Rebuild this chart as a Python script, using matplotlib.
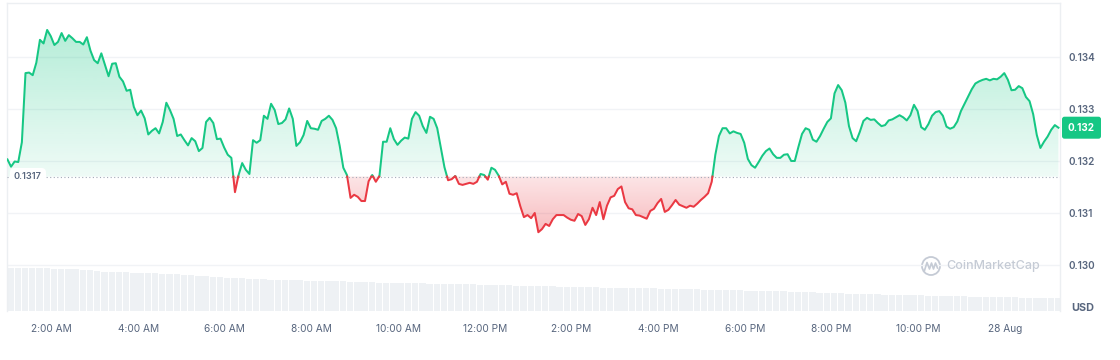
import numpy as np
import pandas as pd
import matplotlib
matplotlib.use("Agg")
import matplotlib.pyplot as plt
import matplotlib.transforms as mtransforms
from matplotlib.path import Path
from matplotlib.patches import Ellipse
from matplotlib.lines import Line2D
from matplotlib.colors import to_rgb

plt.rcParams['font.family'] = ['Inter', 'DejaVu Sans']

# ---------------- data ----------------
start_time = "2024-08-27 00:59"
step_minutes = 5
prices = [
    0.13203, 0.13189, 0.13199, 0.13198, 0.13236, 0.13369, 0.13370, 0.13365, 0.13389, 0.13433,
    0.13426, 0.13452, 0.13440, 0.13423, 0.13429, 0.13446, 0.13431, 0.13442, 0.13436, 0.13429,
    0.13429, 0.13424, 0.13438, 0.13412, 0.13394, 0.13388, 0.13407, 0.13385, 0.13363, 0.13387,
    0.13388, 0.13362, 0.13353, 0.13335, 0.13337, 0.13304, 0.13288, 0.13297, 0.13282, 0.13251,
    0.13258, 0.13263, 0.13253, 0.13275, 0.13312, 0.13298, 0.13281, 0.13248, 0.13251, 0.13240,
    0.13230, 0.13244, 0.13238, 0.13219, 0.13225, 0.13275, 0.13283, 0.13273, 0.13242, 0.13243,
    0.13226, 0.13212, 0.13206, 0.13140, 0.13173, 0.13196, 0.13183, 0.13175, 0.13240, 0.13235,
    0.13240, 0.13287, 0.13281, 0.13310, 0.13298, 0.13271, 0.13273, 0.13280, 0.13301, 0.13281,
    0.13229, 0.13236, 0.13250, 0.13277, 0.13263, 0.13262, 0.13260, 0.13277, 0.13281, 0.13287,
    0.13279, 0.13263, 0.13229, 0.13187, 0.13173, 0.13129, 0.13135, 0.13131, 0.13123, 0.13123,
    0.13161, 0.13173, 0.13160, 0.13171, 0.13237, 0.13237, 0.13263, 0.13242, 0.13231, 0.13239,
    0.13245, 0.13243, 0.13281, 0.13294, 0.13287, 0.13267, 0.13254, 0.13285, 0.13281, 0.13263,
    0.13225, 0.13188, 0.13163, 0.13165, 0.13171, 0.13156, 0.13154, 0.13156, 0.13158, 0.13156,
    0.13160, 0.13175, 0.13173, 0.13164, 0.13187, 0.13183, 0.13172, 0.13155, 0.13160, 0.13137,
    0.13135, 0.13138, 0.13113, 0.13092, 0.13096, 0.13090, 0.13100, 0.13063, 0.13069, 0.13079,
    0.13075, 0.13088, 0.13096, 0.13096, 0.13096, 0.13091, 0.13087, 0.13085, 0.13098, 0.13094,
    0.13077, 0.13088, 0.13110, 0.13096, 0.13121, 0.13088, 0.13114, 0.13130, 0.13133, 0.13146,
    0.13151, 0.13121, 0.13109, 0.13107, 0.13096, 0.13095, 0.13092, 0.13089, 0.13104, 0.13108,
    0.13119, 0.13127, 0.13102, 0.13106, 0.13115, 0.13125, 0.13116, 0.13113, 0.13110, 0.13114,
    0.13112, 0.13118, 0.13125, 0.13131, 0.13138, 0.13160, 0.13212, 0.13248, 0.13263, 0.13263,
    0.13253, 0.13257, 0.13254, 0.13252, 0.13235, 0.13204, 0.13192, 0.13187, 0.13198, 0.13210,
    0.13219, 0.13224, 0.13213, 0.13206, 0.13206, 0.13212, 0.13213, 0.13200, 0.13200, 0.13227,
    0.13252, 0.13263, 0.13260, 0.13241, 0.13237, 0.13248, 0.13262, 0.13275, 0.13282, 0.13330,
    0.13346, 0.13336, 0.13312, 0.13267, 0.13244, 0.13238, 0.13256, 0.13277, 0.13283, 0.13279,
    0.13280, 0.13273, 0.13267, 0.13269, 0.13278, 0.13280, 0.13284, 0.13288, 0.13284, 0.13278,
    0.13288, 0.13308, 0.13296, 0.13265, 0.13260, 0.13271, 0.13287, 0.13294, 0.13296, 0.13287,
    0.13266, 0.13262, 0.13265, 0.13276, 0.13296, 0.13310, 0.13324, 0.13338, 0.13349, 0.13353,
    0.13356, 0.13358, 0.13355, 0.13358, 0.13357, 0.13362, 0.13369, 0.13356, 0.13336, 0.13337,
    0.13344, 0.13340, 0.13323, 0.13315, 0.13290, 0.13250, 0.13225, 0.13237, 0.13247, 0.13260,
    0.13269, 0.13264,
]
ref_price = 0.1317
ref_label = "0.1317"
last_price_label = "0.132"

vol_start_time = "2024-08-27 00:59"
vol_step_minutes = 10
volumes = [
    128, 128, 128, 128, 128, 128, 127, 125, 125, 125, 123, 122, 120, 118, 118, 117, 116, 115, 114, 113,
    113, 112, 111, 110, 108, 107, 106, 105, 103, 101, 100, 99, 98, 97, 96, 95, 94, 93, 93, 93,
    92, 91, 91, 90, 89, 89, 89, 88, 88, 87, 86, 85, 85, 85, 84, 84, 83, 83, 82, 82,
    82, 81, 81, 80, 80, 79, 79, 78, 78, 77, 76, 76, 75, 75, 74, 74, 73, 73, 72, 72,
    71, 71, 70, 70, 70, 69, 69, 69, 68, 68, 67, 67, 66, 66, 65, 65, 64, 64, 63, 63,
    62, 62, 61, 61, 60, 60, 59, 59, 58, 57, 56, 56, 55, 54, 54, 53, 52, 52, 51, 51,
    50, 49, 49, 48, 48, 47, 47, 46, 46, 45, 45, 44, 44, 43, 43, 42, 42, 42, 41, 41,
    40, 40, 40, 39, 39, 39,
]

ytick_values = [0.130, 0.131, 0.132, 0.133, 0.134]
ytick_labels = ["0.130", "0.131", "0.132", "0.133", "0.134"]
xtick_times = ["2024-08-27 02:00", "2024-08-27 04:00", "2024-08-27 06:00", "2024-08-27 08:00",
               "2024-08-27 10:00", "2024-08-27 12:00", "2024-08-27 14:00", "2024-08-27 16:00",
               "2024-08-27 18:00", "2024-08-27 20:00", "2024-08-27 22:00", "2024-08-28 00:00"]
xtick_labels = ["2:00 AM", "4:00 AM", "6:00 AM", "8:00 AM", "10:00 AM", "12:00 PM",
                "2:00 PM", "4:00 PM", "6:00 PM", "8:00 PM", "10:00 PM", "28 Aug"]

# ---------------- helpers ----------------
GREEN = "#16c784"
RED = "#ea3943"
TXT = "#58667e"
origin = pd.Timestamp("2024-08-27")


def to_hours(ts):
    return np.asarray((pd.DatetimeIndex(ts) - origin) / pd.Timedelta(hours=1), dtype=float)


times = pd.date_range(start_time, periods=len(prices), freq=f"{step_minutes}min")
xh = to_hours(times)
yp = np.asarray(prices, dtype=float)

vol_times = pd.date_range(vol_start_time, periods=len(volumes), freq=f"{vol_step_minutes}min")
vh = to_hours(vol_times)

# insert crossing points with the reference level
xs, ys = [xh[0]], [yp[0]]
for i in range(len(xh) - 1):
    y0, y1 = yp[i], yp[i + 1]
    if (y0 - ref_price) * (y1 - ref_price) < 0:
        t = (ref_price - y0) / (y1 - y0)
        xs.append(xh[i] + t * (xh[i + 1] - xh[i]))
        ys.append(ref_price)
    xs.append(xh[i + 1])
    ys.append(y1)
xs = np.array(xs)
ys = np.array(ys)
eps = 1e-12
above = np.where(ys >= ref_price - eps, ys, np.nan)
below = np.where(ys <= ref_price + eps, ys, np.nan)

# ---------------- figure ----------------
W, H = 1120, 360
fig = plt.figure(figsize=(W / 100, H / 100), dpi=100)
fig.patch.set_facecolor("white")
ax_l, ax_r, ax_t, ax_b = 7, 1060, 3, 311
ax = fig.add_axes([ax_l / W, 1 - ax_b / H, (ax_r - ax_l) / W, (ax_b - ax_t) / H])
ax2 = ax.twinx()

XLIM = (0.9735, 25.269)
YLIM = (0.129115, 0.135038)

# volume bars
ax2.bar(vh, volumes, width=vol_step_minutes / 60 * 0.88, align="edge",
        color="#eef1f4", linewidth=0)
ax2.set_ylim(0, 924)
ax2.set_yticks([])
for s in ax2.spines.values():
    s.set_visible(False)

ax.set_zorder(ax2.get_zorder() + 1)
ax.patch.set_visible(False)

# gradient fills
def gradient_fill(mask_where, color, a_top, a_bot, y_bot, y_top):
    coll = ax.fill_between(xs, ys, ref_price, where=mask_where, interpolate=True,
                           facecolor="none", edgecolor="none")
    paths = coll.get_paths()
    comp = Path.make_compound_path(*paths)
    rgb = to_rgb(color)
    n = 256
    arr = np.zeros((n, 1, 4))
    arr[:, :, :3] = rgb
    arr[:, 0, 3] = np.linspace(a_top, a_bot, n)
    im = ax.imshow(arr, extent=[XLIM[0], XLIM[1], y_bot, y_top], origin="upper",
                   aspect="auto", interpolation="bilinear", zorder=1)
    im.set_clip_path(comp, transform=ax.transData)

gradient_fill(ys >= ref_price - eps, GREEN, 0.36, 0.07, ref_price, YLIM[1])
gradient_fill(ys <= ref_price + eps, RED, 0.13, 0.34, yp.min(), ref_price)

ax.plot(xs, above, color=GREEN, lw=1.45, zorder=4, solid_joinstyle="round")
ax.plot(xs, below, color=RED, lw=1.45, zorder=4, solid_joinstyle="round")

ax.axhline(ref_price, color="#a3aab8", lw=0.8, ls=(0, (1, 2.2)), zorder=3)

ax.set_xlim(*XLIM)
ax.set_ylim(*YLIM)

# axes styling
ax.yaxis.tick_right()
ax.set_yticks(ytick_values)
ax.set_yticklabels(ytick_labels, fontsize=7.2, color=TXT, fontweight="semibold")
ax.tick_params(axis="y", length=0, pad=6)
ax.set_xticks(to_hours(xtick_times))
ax.set_xticklabels(xtick_labels, fontsize=7.3, color=TXT)
ax.tick_params(axis="x", length=0, pad=9)
ax.grid(axis="y", color="#f1f3f6", lw=1, zorder=0)
ax.set_axisbelow(True)
for side in ["left", "top", "right"]:
    ax.spines[side].set_color("#eceff2")
    ax.spines[side].set_linewidth(1)
ax.spines["bottom"].set_visible(False)

# reference label
blend = mtransforms.blended_transform_factory(ax.transAxes, ax.transData)
ax.text(7 / (ax_r - ax_l), ref_price, ref_label, transform=blend, ha="left", va="center",
        fontsize=6.6, color=TXT, fontweight="semibold", zorder=6,
        bbox=dict(boxstyle="round,pad=0.45,rounding_size=0.5", fc="white", ec="none"))

# current price badge
ax.text(1 + 8 / (ax_r - ax_l), yp[-1], last_price_label, transform=blend, ha="left",
        va="center", fontsize=7.2, color="white", fontweight="bold", zorder=6, clip_on=False,
        bbox=dict(boxstyle="round,pad=0.6,rounding_size=0.25", fc=GREEN, ec="none"))

fig.text(1083 / W, 1 - 308 / H, "USD", ha="center", va="center", fontsize=7.8,
         fontweight="bold", color=TXT)

# watermark
wm = "#c5cbd5"
fig.text(946 / W, 1 - 266 / H, "CoinMarketCap", ha="left", va="center", fontsize=9,
         color=wm, fontweight="medium")
fig.add_artist(Ellipse((931 / W, 1 - 266 / H), 18 / W, 18 / H, fill=False, ec=wm, lw=1.3))
wx = np.array([924.5, 927, 929.5, 931.5, 933.5, 935.5, 937.5])
wy = np.array([270.5, 262.5, 269, 263, 269, 263, 268])
fig.add_artist(Line2D(wx / W, 1 - wy / H, color=wm, lw=1.2, solid_joinstyle="round"))

fig.savefig("out.png", dpi=100, facecolor="white")
